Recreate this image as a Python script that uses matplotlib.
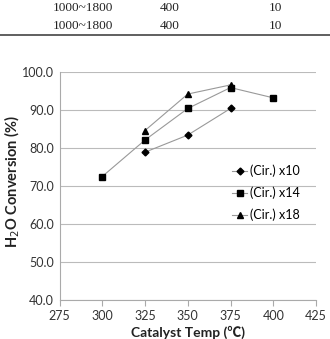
import matplotlib
matplotlib.use("Agg")
import matplotlib.pyplot as plt

# Conversion data
temps_x10 = [325, 350, 375]
conv_x10 = [78.9, 83.4, 90.4]
temps_x14 = [300, 325, 350, 375, 400]
conv_x14 = [72.5, 82.1, 90.4, 95.9, 93.2]
temps_x18 = [325, 350, 375]
conv_x18 = [84.6, 94.2, 96.6]
labels = ["(Cir.) x10", "(Cir.) x14", "(Cir.) x18"]
markers = ["D", "s", "^"]

# table rows above the chart
table_rows = [["1000~1800", "400", "10"], ["1000~1800", "400", "10"]]

SANS = ["Lato", "Noto Sans CJK SC", "DejaVu Sans"]

fig = plt.figure(figsize=(3.30, 3.39), dpi=100)
W, H = 330, 339

# table fragment
for r, row in enumerate(table_rows):
    y = 1 - (8 + 18 * r) / H
    for x, txt in zip([83, 170, 275], row):
        fig.text(x / W, y, txt, ha="center", va="center",
                 family="Liberation Serif", fontsize=9.5, color="#222222")
fig.add_artist(plt.Line2D([0, 1], [1 - 35 / H, 1 - 35 / H],
                          color="#444444", lw=1.2))

ax = fig.add_axes([59.5 / W, 39 / H, (316 - 59.5) / W, (300 - 72) / H])
series = [(temps_x10, conv_x10), (temps_x14, conv_x14), (temps_x18, conv_x18)]
sizes = [3.5, 4.5, 4.5]
for (xs, ys), lab, m, ms in zip(series, labels, markers, sizes):
    ax.plot(xs, ys, color="#999999", lw=0.8, marker=m, ms=ms,
            mfc="black", mec="black", label=lab)

ax.set_xlim(275, 425)
ax.set_ylim(40, 100)
ax.set_xticks(range(275, 426, 25))
ax.set_yticks(range(40, 101, 10))
ax.set_yticklabels([f"{v:.1f}" for v in range(40, 101, 10)])
ax.grid(axis="y", color="#bbbbbb", lw=0.8)
ax.set_axisbelow(True)
for s in ["top", "right"]:
    ax.spines[s].set_visible(False)
for s in ["left", "bottom"]:
    ax.spines[s].set_color("#aaaaaa")
ax.tick_params(axis="y", length=0, labelsize=9, pad=4)
ax.tick_params(axis="x", length=4, color="#aaaaaa", labelsize=9, direction="out")
for t in ax.get_xticklabels() + ax.get_yticklabels():
    t.set_family(SANS)
    t.set_color("#333333")

ax.set_ylabel("H$_2$O Conversion (%)", family=SANS, fontsize=10.5,
              fontweight="bold", color="#222222")
ax.yaxis.set_label_coords(-0.145, 0.52)
ax.set_xlabel("Catalyst Temp (℃)", family=SANS, fontsize=10,
              fontweight="bold", color="#222222")
ax.xaxis.set_label_coords(0.5, -0.112)

leg = ax.legend(loc="center left", bbox_to_anchor=(0.63, 0.47), frameon=False,
                prop={"family": SANS, "size": 9}, handlelength=1.2,
                handletextpad=0.2, labelspacing=0.75)

fig.savefig("out.png", dpi=100)
